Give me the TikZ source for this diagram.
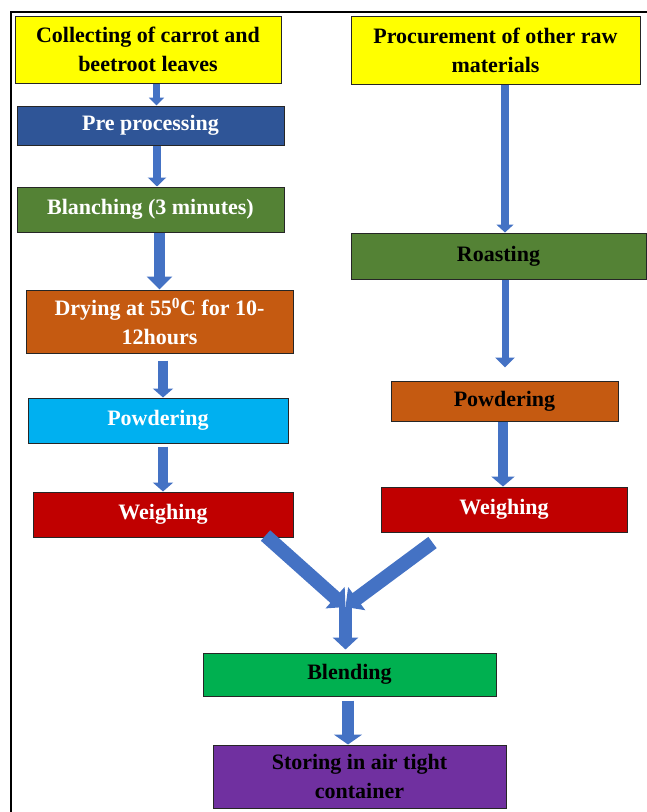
\documentclass[tikz,border=0pt]{standalone}
\usepackage{fontspec}
\setmainfont{Liberation Serif}
\usepackage{xcolor}
\usetikzlibrary{arrows.meta,positioning,calc}

\definecolor{boxyellow}{HTML}{FFFF00}
\definecolor{boxnavy}{HTML}{2F5597}
\definecolor{boxolive}{HTML}{548235}
\definecolor{boxorange}{HTML}{C55A11}
\definecolor{boxcyan}{HTML}{00B0F0}
\definecolor{boxred}{HTML}{C00000}
\definecolor{boxgreen}{HTML}{00B050}
\definecolor{boxpurple}{HTML}{7030A0}
\definecolor{flowblue}{HTML}{4472C4}

\tikzset{
  stage/.style={draw=black!85, line width=1pt, inner sep=0pt, align=center,
    font=\fontsize{22}{29}\selectfont\bfseries},
  flow/.style n args={3}{draw=flowblue, line width=#1, -{Triangle[width=#2,length=#3]}},
}

\begin{document}
\begin{tikzpicture}[x=1pt,y=-1pt]
		\useasboundingbox (0,0) rectangle (647,812);
		\draw[line width=1.6pt] (11,812) -- (11,12) -- (647,12);

		% left branch
		\node[stage,fill=boxyellow,minimum width=266pt,minimum height=67pt]
		(collect) at (148,49.5)				{Collecting of carrot and\\beetroot leaves};
		\node[stage,fill=boxnavy,text=white,minimum width=267pt,minimum height=39pt]
		(prep) at (150.5,125.5)				{Pre processing};
		\node[stage,fill=boxolive,text=white,minimum width=267pt,minimum height=45pt]
		(blanch) at (150.5,209.5)			{Blanching (3 minutes)};
		\node[stage,fill=boxorange,text=white,minimum width=267pt,minimum height=63pt]
		(dry) at (159.5,321.5)				{Drying at 55\textsuperscript{0}C for 10-\\12hours};
		\node[stage,fill=boxcyan,text=white,minimum width=260pt,minimum height=45pt]
		(powdL) at (158,420.5)				{Powdering};
		\node[stage,fill=boxred,text=white,minimum width=260pt,minimum height=45pt]
		(weighL) at (163,514.5)				{Weighing};

		% right branch
		\node[stage,fill=boxyellow,minimum width=289pt,minimum height=68pt]
		(procure) at (495.5,50)				{Procurement of other raw\\materials};
		\node[stage,fill=boxolive,minimum width=295pt,minimum height=46pt]
		(roast) at (498.5,256)				{Roasting};
		\node[stage,fill=boxorange,minimum width=227pt,minimum height=40pt]
		(powdR) at (504.5,401)				{Powdering};
		\node[stage,fill=boxred,text=white,minimum width=246pt,minimum height=45pt]
		(weighR) at (504,509.5)				{Weighing};

		% joined part
		\coordinate (join) at (345.5,607);
		\node[stage,fill=boxgreen,minimum width=293pt,minimum height=43pt]
		(blend) at (349.5,674.5)			{Blending};
		\node[stage,fill=boxpurple,minimum width=293pt,minimum height=63pt]
		(store) at (359.5,776.5)			{Storing in air tight\\container};

		\draw[flow={7.5pt}{15pt}{8pt}] ([xshift=8.5pt]collect.south) -- ([xshift=8.5pt]collect.south |- prep.north);
		\draw[flow={8pt}{18pt}{9pt}] ([xshift=6.5pt]prep.south) -- ([xshift=6.5pt]prep.south |- blanch.north);
		\draw[flow={11pt}{25pt}{13pt}] ([xshift=9pt]blanch.south) -- ([xshift=9pt]blanch.south |- dry.north);
		\draw[flow={10pt}{20pt}{9pt}] ([xshift=3.5pt,yshift=-7pt]dry.south) -- ([xshift=3.5pt]dry.south |- powdL.north);
		\draw[flow={10pt}{20pt}{9pt}] ([xshift=5pt,yshift=-3pt]powdL.south) -- ([xshift=5pt]powdL.south |- weighL.north);

		\draw[flow={8pt}{17pt}{8pt}] ([xshift=9.5pt]procure.south) -- ([xshift=9.5pt]procure.south |- roast.north);
		\draw[flow={7pt}{19pt}{10pt},shorten >=13pt] ([xshift=6.5pt]roast.south) -- ([xshift=6.5pt]roast.south |- powdR.north);
		\draw[flow={10pt}{23pt}{10pt}] ([xshift=-1.5pt]powdR.south) -- ([xshift=-1.5pt]powdR.south |- weighR.north);

		\draw[flow={14pt}{28pt}{14pt}] ([xshift=-28pt,yshift=2pt]weighL.south east) -- (join);
		\draw[flow={14pt}{28pt}{14pt}] ([xshift=52pt,yshift=-10pt]weighR.south west) -- (join);
		\draw[flow={13pt}{25pt}{12pt},shorten >=3pt] (join) -- (join |- blend.north);
		\draw[flow={12pt}{28pt}{10pt}] ([xshift=-1.5pt,yshift=-4pt]blend.south) -- ([xshift=-1.5pt]blend.south |- store.north);
\end{tikzpicture}
\end{document}
